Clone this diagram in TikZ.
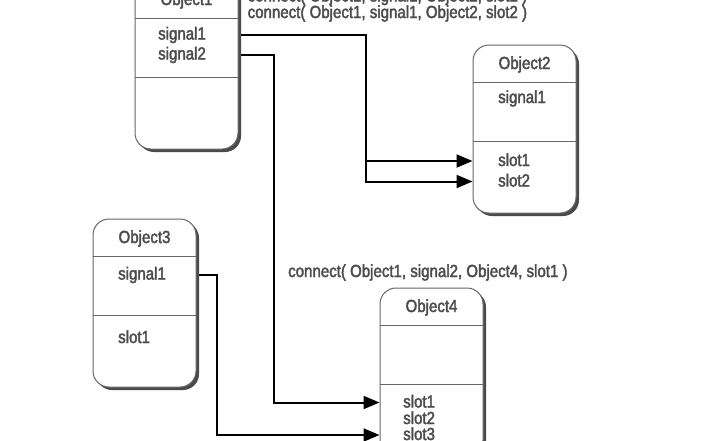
\documentclass[tikz,border=0pt]{standalone}
\usepackage{fontspec}
\setmainfont{Liberation Sans}[FakeStretch=0.86,FakeBold=2.2]
\usetikzlibrary{arrows.meta,shadows,backgrounds}
\definecolor{txtgray}{HTML}{4C4C4C}
\definecolor{boxgray}{HTML}{666666}
\definecolor{shgray}{HTML}{4A4A4A}
\begin{document}
\begin{tikzpicture}[x=1pt,y=-1pt,
  objbox/.style={draw=boxgray, line width=1pt, fill=white, rounded corners=16pt,
    minimum width=103pt, minimum height=168pt, inner sep=0pt,
    copy shadow={shadow xshift=3pt, shadow yshift=-3pt, fill=shgray, draw=none}},
  sepline/.style={draw=boxgray, line width=1pt},
  txt/.style={font=\fontsize{17.5}{19}\selectfont, text=txtgray, inner sep=0pt,
    text height=12pt, text depth=2pt, anchor=west},
  ttl/.style={font=\fontsize{17.5}{19}\selectfont, text=txtgray, inner sep=0pt, anchor=base},
  lbl/.style={font=\fontsize{17.5}{19}\selectfont, text=txtgray, inner sep=0pt, anchor=base west},
  conn/.style={draw=black, line width=2pt, -{Triangle[length=16pt,width=13pt]}}]
\useasboundingbox (0,0) rectangle (704,440);
\clip (0,0) rectangle (704,440);

% object boxes
\node[objbox] (o1) at (186.5,65) {};
\node[objbox] (o2) at (524.5,129) {};
\node[objbox] (o3) at (144.5,303) {};
\node[objbox] (o4) at (431.5,372) {};
\foreach \o in {o1,o2,o3,o4}{
  \draw[sepline] ([yshift=-38pt]\o.north west) -- ([yshift=-38pt]\o.north east);
  \draw[sepline] ([yshift=-96.5pt]\o.north west) -- ([yshift=-96.5pt]\o.north east);
}

% titles
\node[ttl] (o1t) at (186.5,5) {Object1};
\node[ttl] (o2t) at (524.5,69) {Object2};
\node[ttl] (o3t) at (144.5,243) {Object3};
\node[ttl] (o4t) at (431.5,312) {Object4};

% members (anchor west at baseline-5)
\node[txt] (o1s1) at (158,34.5) {signal1};
\node[txt] (o1s2) at (158,54.5) {signal2};
\node[txt] (o2s1) at (498,98) {signal1};
\node[txt] (o2l1) at (498,161) {slot1};
\node[txt] (o2l2) at (498,181.5) {slot2};
\node[txt] (o3s1) at (118,274.5) {signal1};
\node[txt] (o3l1) at (118,338) {slot1};
\node[txt] (o4l1) at (403,402.5) {slot1};
\node[txt] (o4l2) at (403,419) {slot2};
\node[txt] (o4l3) at (403,435) {slot3};

% labels
\node[lbl] (lab0) at (247.5,1.5) {connect( Object1, signal1, Object2, slot1 )};
\node[lbl] (lab1) at (247.5,18) {connect( Object1, signal1, Object2, slot2 )};
\node[lbl] (lab2) at (288,277) {connect( Object1, signal2, Object4, slot1 )};

% junction coordinates
\coordinate (j1) at (366,0);
\coordinate (j2) at (274,0);
\coordinate (j3) at (217,0);

% connectors
\begin{scope}[on background layer]
\draw[conn] (o1.east |- o1s1) -| (j1 |- o2l2) -- (o2.west |- o2l2);
\draw[conn] (j1 |- o2l1) -- (o2.west |- o2l1);
\draw[conn] (o1.east |- o1s2) -| (j2 |- o4l1) -- (o4.west |- o4l1);
\draw[conn] (o3.east |- o3s1) -| (j3 |- o4l3) -- (o4.west |- o4l3);
\end{scope}
\end{tikzpicture}
\end{document}
